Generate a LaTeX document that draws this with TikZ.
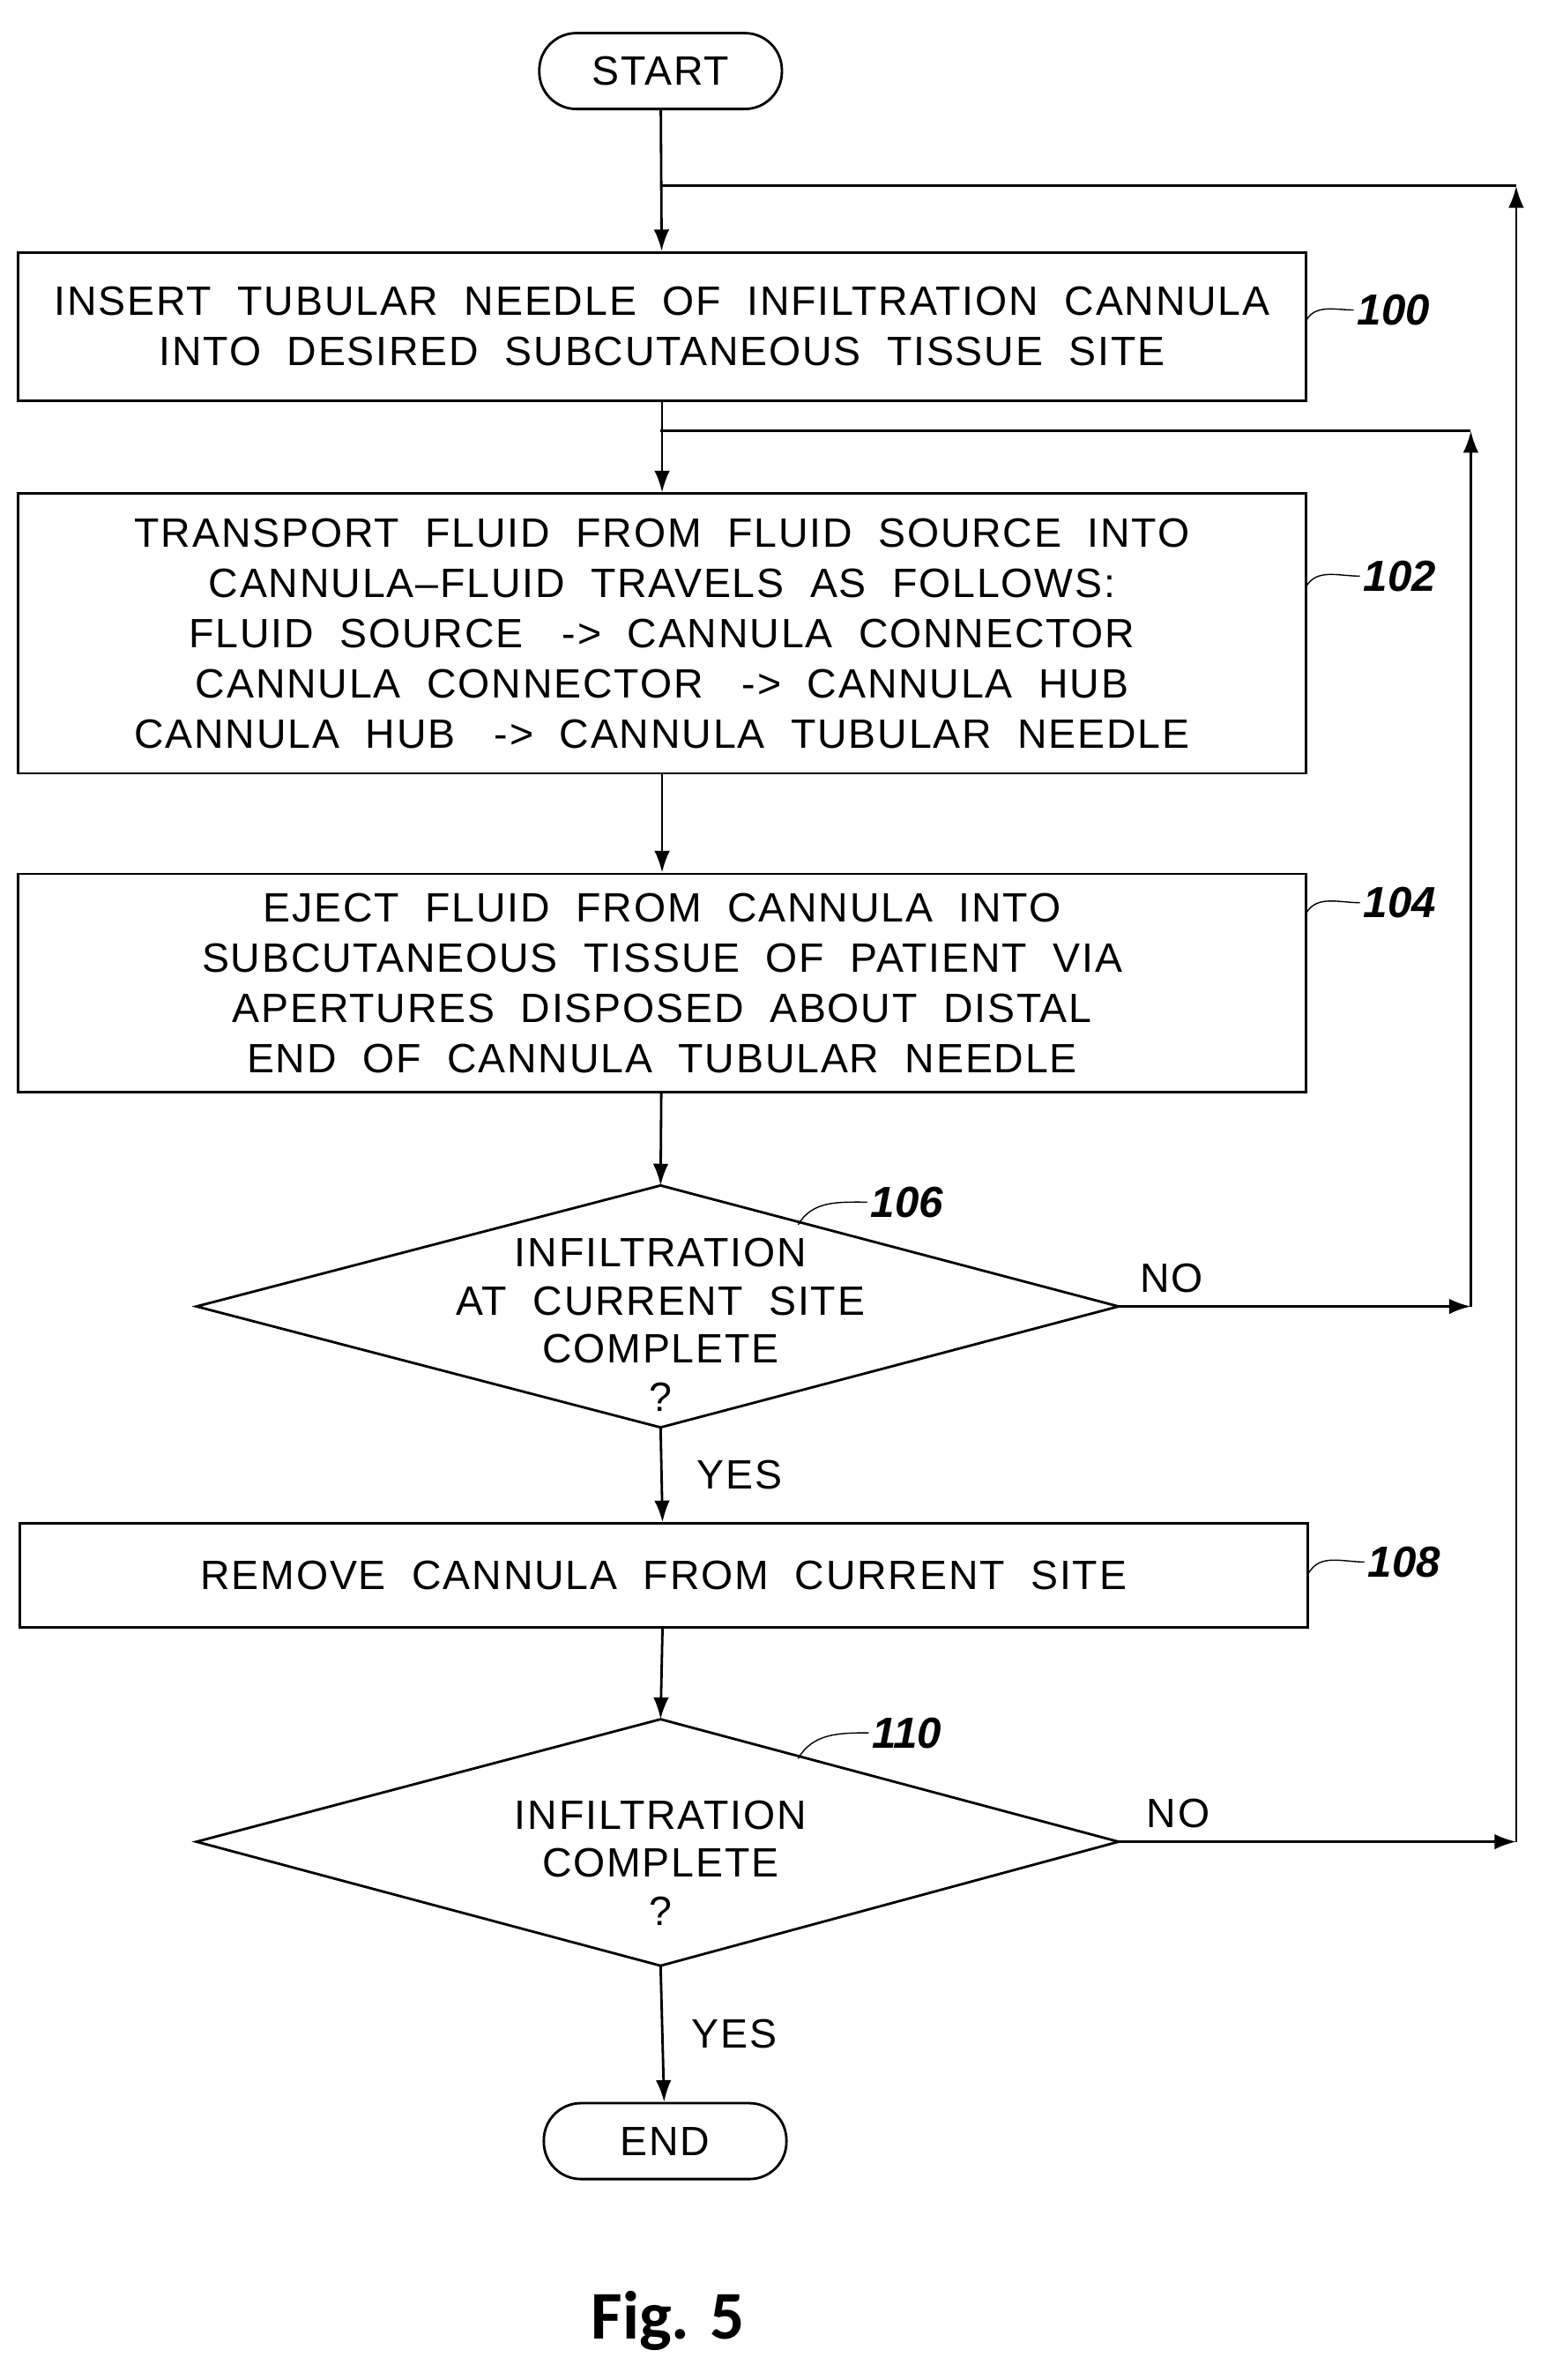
\documentclass[tikz,border=0pt]{standalone}
\usepackage{fontspec}
\setmainfont{Liberation Sans}
\newfontfamily\figfont{Carlito}
\usetikzlibrary{positioning,calc,arrows.meta}
\tikzset{
  stepbox/.style={draw, thick, minimum width=14.6cm, align=center, inner sep=0pt,
    font=\fontsize{13.2}{16.2}\selectfont\addfontfeatures{LetterSpace=4}},
  term/.style={draw, thick, rounded corners=0.42cm, minimum width=2.75cm, minimum height=0.86cm,
    font=\fontsize{13.2}{15}\selectfont\addfontfeatures{LetterSpace=4}},
  ask/.style={align=center, inner sep=0pt,
    font=\fontsize{13.2}{15.5}\selectfont\addfontfeatures{LetterSpace=4}},
  tag/.style={font=\fontsize{14}{15}\selectfont\itshape\bfseries, inner sep=1pt},
  yn/.style={font=\fontsize{13.2}{15}\selectfont\addfontfeatures{LetterSpace=4}, inner sep=1pt},
  flow/.style={thick, -{Latex[length=7pt,width=5pt]}},
}
\begin{document}
\begin{tikzpicture}[x=0.01714cm, y=-0.01714cm]
  \useasboundingbox (0,0) rectangle (1024,1574);
  % terminals and steps
  \node[term] (start) at (437,47) {START};
  \node[stepbox, minimum height=1.68cm] (s100) at (438,216) {INSERT \ TUBULAR \ NEEDLE \ OF \ INFILTRATION \ CANNULA\\INTO \ DESIRED \ SUBCUTANEOUS \ TISSUE \ SITE};
  \node[stepbox, minimum height=3.17cm] (s102) at (438,419) {TRANSPORT \ FLUID \ FROM \ FLUID \ SOURCE \ INTO\\CANNULA--FLUID \ TRAVELS \ AS \ FOLLOWS:\\FLUID \ SOURCE \ \ -> \ CANNULA \ CONNECTOR\\CANNULA \ CONNECTOR \ \ -> \ CANNULA \ HUB\\CANNULA \ HUB \ \ -> \ CANNULA \ TUBULAR \ NEEDLE};
  \node[stepbox, minimum height=2.47cm] (s104) at (438,650) {EJECT \ FLUID \ FROM \ CANNULA \ INTO\\SUBCUTANEOUS \ TISSUE \ OF \ PATIENT \ VIA\\APERTURES \ DISPOSED \ ABOUT \ DISTAL\\END \ OF \ CANNULA \ TUBULAR \ NEEDLE};
  \node[stepbox, minimum height=1.18cm] (s108) at (439,1042) {REMOVE \ CANNULA \ FROM \ CURRENT \ SITE};
  \node[term] (stop) at (440,1416) {END};
  % decisions
  \coordinate (d106n) at (437,784); \coordinate (d106s) at (437,944);
  \coordinate (d106w) at (130,864); \coordinate (d106e) at (740,864);
  \draw[thick] (d106n) -- (d106e) -- (d106s) -- (d106w) -- cycle;
  \node[ask] (q106) at (437,876) {INFILTRATION\\AT \ CURRENT \ SITE\\COMPLETE\\?};
  \coordinate (d110n) at (437,1137); \coordinate (d110s) at (437,1300);
  \coordinate (d110w) at (130,1218); \coordinate (d110e) at (740,1218);
  \draw[thick] (d110n) -- (d110e) -- (d110s) -- (d110w) -- cycle;
  \node[ask] (q110) at (437,1232) {INFILTRATION\\COMPLETE\\?};
  % reference numerals
  \node[tag] (n100) at (922,205) {100};
  \node[tag] (n102) at (926,381) {102};
  \node[tag] (n104) at (926,597) {104};
  \node[tag] (n106) at (600,795) {106};
  \node[tag] (n108) at (929,1033) {108};
  \node[tag] (n110) at (600,1146) {110};
  \draw (864,212) to[out=60, in=180] (n100.west);
  \draw (864,388) to[out=60, in=180] (n102.west);
  \draw (864,604) to[out=60, in=180] (n104.west);
  \draw (528,810) to[out=60, in=180] (n106.west);
  \draw (866,1040) to[out=60, in=180] (n108.west);
  \draw (528,1163) to[out=60, in=180] (n110.west);
  % main flow
  \draw[flow] (start) -- (s100);
  \draw[flow] (s100) -- (s102);
  \draw[flow] (s102) -- (s104);
  \draw[flow] (s104) -- (d106n);
  \draw[flow] (d106s) -- node[yn, right=10pt] {YES} (s108);
  \draw[flow] (s108) -- (d110n);
  \draw[flow] (d110s) -- node[yn, right=8pt] {YES} (stop);
  % loops back
  \coordinate (j1) at (437,123); \coordinate (r1) at (1003,123); \coordinate (r2) at (1003,1218);
  \coordinate (j2) at (437,285); \coordinate (r3) at (973,285); \coordinate (r4) at (973,864);
  \draw[flow] (d106e) -- node[yn, above=3pt, pos=0.15] {NO} (r4);
  \draw[flow] (r4) -- (r3);
  \draw[thick] (r3) -- (j2);
  \draw[flow] (d110e) -- node[yn, above=3pt, pos=0.15] {NO} (r2);
  \draw[flow] (r2) -- (r1);
  \draw[thick] (r1) -- (j1);
  % caption
  \node[font=\figfont\bfseries\fontsize{22}{26}\selectfont] (cap) at (442,1535) {Fig. 5};
\end{tikzpicture}
\end{document}
